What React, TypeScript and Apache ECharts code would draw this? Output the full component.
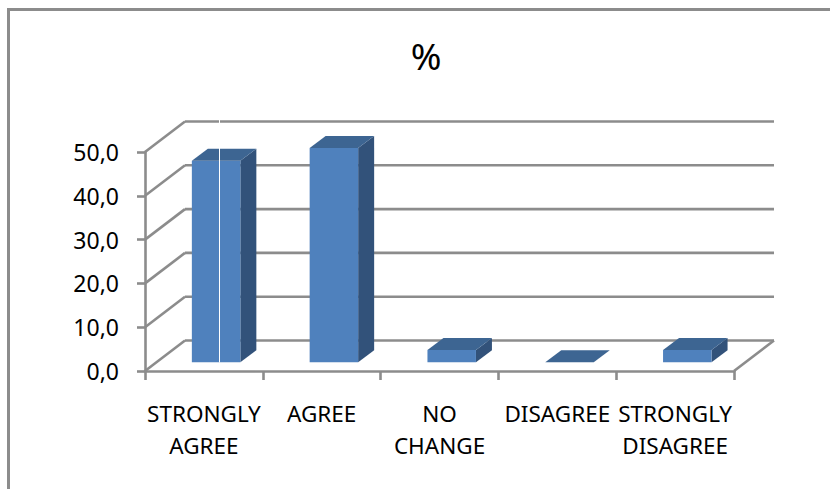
import React, { useEffect, useRef } from "react";
import * as echarts from "echarts";

const categories = ["STRONGLY\nAGREE", "AGREE", "NO\nCHANGE", "DISAGREE", "STRONGLY\nDISAGREE"];
const values = [46.0, 48.9, 2.8, 0.0, 2.8];
const yTicks = [0, 10, 20, 30, 40, 50];

const GRAY = "#8c8c8c";
const FONT = "'Noto Sans', sans-serif";
const LINE = 2.6;
const WALL_DX = 40;
const WALL_DY = -30.5;
const BAR_WIDTH = 48.5;
const BAR_SHIFT_X = 12.2;
const BAR_SHIFT_Y = -8.7;
const BAR_DX = 16;
const BAR_DY = -12;

function renderWalls(params: any, api: any) {
  const v = api.value(0);
  const y = api.coord([0, v])[1];
  const cs = params.coordSys;
  const left = cs.x;
  const right = cs.x + cs.width;
  const lineStyle = { stroke: GRAY, lineWidth: LINE, fill: "none" };
  const children: any[] = [
    { type: "line", shape: { x1: left, y1: y, x2: left + WALL_DX, y2: y + WALL_DY }, style: lineStyle },
    { type: "line", shape: { x1: left + WALL_DX, y1: y + WALL_DY, x2: right + WALL_DX, y2: y + WALL_DY }, style: lineStyle },
  ];
  if (params.dataIndex === 0) {
    children.push({ type: "line", shape: { x1: right, y1: y, x2: right + WALL_DX, y2: y + WALL_DY }, style: lineStyle });
  }
  return { type: "group", children };
}

function renderBars(_params: any, api: any) {
  const idx = api.value(0);
  const v = api.value(1);
  const base = api.coord([idx, 0]);
  const top = api.coord([idx, v]);
  const x0 = base[0] + BAR_SHIFT_X - BAR_WIDTH / 2;
  const x1 = x0 + BAR_WIDTH;
  const yb = base[1] + BAR_SHIFT_Y;
  const yt = top[1] + BAR_SHIFT_Y;
  const children: any[] = [];
  if (yb - yt > 0.1) {
    children.push({
      type: "polygon",
      shape: { points: [[x1, yt], [x1 + BAR_DX, yt + BAR_DY], [x1 + BAR_DX, yb + BAR_DY], [x1, yb]] },
      style: { fill: "#32527a" },
    });
    children.push({
      type: "rect",
      shape: { x: x0, y: yt, width: BAR_WIDTH, height: yb - yt },
      style: { fill: "#4f81bd" },
    });
  }
  children.push({
    type: "polygon",
    shape: { points: [[x0, yt], [x0 + BAR_DX, yt + BAR_DY], [x1 + BAR_DX, yt + BAR_DY], [x1, yt]] },
    style: { fill: "#3d6592" },
  });
  return { type: "group", children };
}

export default function App() {
  const ref = useRef<HTMLDivElement>(null);
  useEffect(() => {
    document.body.style.margin = "0";
    const chart = echarts.init(ref.current!, null, { renderer: "svg" });
    chart.setOption({
      animation: false,
      backgroundColor: "#ffffff",
      title: {
        text: "%",
        left: 421,
        top: 32,
        textAlign: "center",
        textStyle: { fontFamily: FONT, fontSize: 37, fontWeight: "normal", color: "#000000" },
      },
      grid: { left: 145, top: 152, width: 589, height: 219 },
      xAxis: {
        type: "category",
        data: categories,
        boundaryGap: true,
        axisLine: { lineStyle: { color: GRAY, width: LINE } },
        axisTick: { show: true, alignWithLabel: false, length: 9, lineStyle: { color: GRAY, width: LINE } },
        axisLabel: { interval: 0, margin: 26, fontFamily: FONT, fontSize: 22.5, lineHeight: 32, color: "#000000", hideOverlap: false },
        splitLine: { show: false },
      },
      yAxis: {
        type: "value",
        min: 0,
        max: 50,
        interval: 10,
        axisLine: { show: true, lineStyle: { color: GRAY, width: LINE } },
        axisTick: { show: true, length: 8, lineStyle: { color: GRAY, width: LINE } },
        axisLabel: {
          margin: 26,
          fontFamily: FONT,
          fontSize: 23,
          color: "#000000",
          formatter: (v: number) => v.toFixed(1).replace(".", ","),
        },
        splitLine: { show: false },
      },
      series: [
        {
          type: "custom",
          renderItem: renderWalls,
          data: yTicks.map((t) => [t]),
          encode: { y: 0 },
          clip: false,
          silent: true,
          z: 1,
        },
        {
          type: "custom",
          renderItem: renderBars,
          data: values.map((v, i) => [i, v]),
          encode: { x: 0, y: 1 },
          clip: false,
          silent: true,
          z: 3,
        },
      ],
      graphic: [
        { type: "rect", z: 10, shape: { x: 7, y: 8, width: 3, height: 481 }, style: { fill: GRAY } },
        { type: "rect", z: 10, shape: { x: 7, y: 8, width: 823, height: 3 }, style: { fill: GRAY } },
        { type: "line", z: 10, shape: { x1: 219.5, y1: 118, x2: 219.5, y2: 362.5 }, style: { stroke: "#ffffff", lineWidth: 1 } },
      ],
    });
    return () => chart.dispose();
  }, []);
  return <div ref={ref} style={{ position: "absolute", left: 0, top: 0, width: 830, height: 489 }} />;
}
